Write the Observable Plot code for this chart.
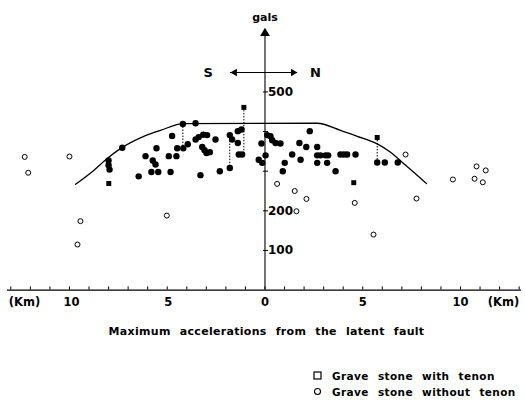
<!DOCTYPE html>
<html><head><meta charset="utf-8">
<script src="https://cdn.jsdelivr.net/npm/d3@7"></script>
<script src="https://cdn.jsdelivr.net/npm/@observablehq/plot@0.6"></script>
<style>
body{margin:0;background:#fff;font-family:"DejaVu Sans",sans-serif;color:#000;}
#wrap{position:relative;width:525px;height:400px;}
#chart{position:absolute;left:0;top:0;}
.cap{position:absolute;left:0;width:525px;top:325px;text-align:center;font-weight:bold;font-size:11px;word-spacing:5px;letter-spacing:0.3px;padding-left:4px;}
.leg{position:absolute;left:311px;font-weight:bold;font-size:10.5px;word-spacing:5px;letter-spacing:0.4px;display:flex;align-items:center;}
.sym{display:inline-block;width:12px;margin-right:9px;text-align:center;}
</style></head>
<body><div id="wrap"><div id="chart"></div>
<div class="cap">Maximum accelerations from the latent fault</div>
<div class="leg" style="top:370px"><span class="sym"><svg width="9" height="9"><rect x="1" y="1" width="7" height="7" fill="none" stroke="#000" stroke-width="1.2"/></svg></span>Grave stone with tenon</div>
<div class="leg" style="top:386px"><span class="sym"><svg width="9" height="9"><circle cx="4.5" cy="4.5" r="3" fill="none" stroke="#000" stroke-width="1.1"/></svg></span>Grave stone without tenon</div>
</div>
<script>
// distance from fault (km, S negative / N positive), acceleration (gals)
const filledX = [-7.30,-4.20,-4.49,-4.18,-3.95,-4.75,-5.55,-6.11,-4.92,-4.53,-5.74,-5.60,-5.81,-5.46,-4.83,-6.46,-8.0,-8.0,-7.95,
  -3.55,-3.55,-3.39,-3.16,-2.96,-3.21,-3.09,-2.99,-2.82,-2.53,-1.80,-1.68,-1.39,-1.39,-1.20,-1.34,-1.17,-1.80,-2.31,-3.30,
  -0.18,0.03,-0.32,-0.14,0.11,0.28,0.37,0.54,0.79,2.29,1.76,2.11,2.67,1.39,1.82,2.67,2.84,3.10,3.23,2.67,3.18,1.01,0.91,3.61,
  3.86,4.03,4.20,4.63,5.74,6.13,6.79];
const filledY = [359,419,358,358,368,389,358,338,338,338,327,317,298,298,298,287,327,315,304,
  421,380,386,392,391,361,353,346,348,380,391,380,371,401,405,342,342,308,300,290,
  370,340,329,321,391,388,378,371,370,401,371,361,361,342,329,340,340,340,340,321,321,321,300,300,
  342,342,342,342,322,322,322];
const squareX = [-7.99,-1.08,5.74,4.54];
const squareY = [269,461,385,271];
const openX = [-12.29,-12.11,-10.0,-9.44,-9.59,-5.02,0.62,1.52,2.12,1.61,4.59,5.55,7.19,7.75,9.61,10.82,11.29,10.72,11.14];
const openY = [336,296,337,174,115,188,268,250,230,199,220,140,342,231,279,312,302,281,272];
// dotted connectors
const linkX = [-4.20,-1.80,-1.08,5.74];
const linkY1 = [419,391,461,385];
const linkY2 = [358,308,342,322];
// envelope curve
const curveX = [-9.69,-8.76,-8.07,-7.30,-6.2,-5.35,-4.15,2.67,3.86,4.72,5.74,6.42,7.10,7.78,8.26];
const curveY = [267,302,332,360,388,403,420,421,403,388,369,348,319,290,269];
// axes
const xTicks = d3.range(-13,14);
const xLabelPos = [-12.3,-9.9,-4.95,0,5.0,10.0,12.2];
const xLabelText = ["(Km)","10","5","0","5","10","(Km)"];
const yTicks = [100,200,300,400,500];
const yLabels = [100,200,500];
const yAxisTop = 656;
const snY = 549, snX1 = -1.77, snX2 = 1.66;
const snLabels = [{x:-2.9,t:"S"},{x:2.58,t:"N"}];

const pts = (X,Y)=>X.map((x,i)=>({x,y:Y[i]}));
const filled = pts(filledX,filledY), squares = pts(squareX,squareY), open = pts(openX,openY);
const links = linkX.map((x,i)=>({x,y1:linkY1[i],y2:linkY2[i]}));
const curve = pts(curveX,curveY);
const font = "DejaVu Sans";

const chart = Plot.plot({
  width:525, height:312,
  marginLeft:7, marginRight:4, marginTop:28, marginBottom:22.4,
  x:{domain:[-13.17,13.12], axis:null},
  y:{domain:[0,660], axis:null},
  style:{fontFamily:font, background:"#fff"},
  marks:[
    Plot.ruleY([0], {stroke:"#000", strokeWidth:1.1}),
    Plot.ruleX(xTicks, {x:d=>d, y1:0, y2:8, stroke:"#000", strokeWidth:1}),
    Plot.text(xLabelPos, {x:d=>d, y:0, text:(d,i)=>xLabelText[i], dy:12, fontSize:11.5, fontWeight:"bold"}),
    Plot.ruleX([0], {y1:0, y2:yAxisTop-12, stroke:"#000", strokeWidth:1.1}),
    Plot.dot([yAxisTop], {x:0, y:d=>d-8, symbol:"triangle", r:3.6, fill:"#000"}),
    Plot.ruleY(yTicks, {y:d=>d, x1:-0.08, x2:0.18, stroke:"#000"}),
    Plot.text(yLabels, {x:0, y:d=>d, text:d=>String(d), textAnchor:"start", dx:3, fontSize:12, fontWeight:"bold"}),
    Plot.text(["gals"], {x:0, y:yAxisTop, text:d=>d, dy:-13, fontSize:11, fontWeight:"bold"}),
    Plot.ruleY([snY], {x1:snX1, x2:snX2, stroke:"#000", strokeWidth:1.1}),
    Plot.dot([snX1], {x:d=>d+0.22, y:snY, symbol:"triangle", rotate:-90, r:2.8, fill:"#000"}),
    Plot.dot([snX2], {x:d=>d-0.22, y:snY, symbol:"triangle", rotate:90, r:2.8, fill:"#000"}),
    Plot.text(snLabels, {x:"x", y:snY, text:"t", fontSize:13, fontWeight:"bold"}),
    Plot.line(curve, {x:"x", y:"y", curve:"monotone-x", stroke:"#000", strokeWidth:1.3}),
    Plot.ruleX(links, {x:"x", y1:"y1", y2:"y2", stroke:"#000", strokeWidth:1, strokeDasharray:"1.5,1.5"}),
    Plot.dot(filled, {x:"x", y:"y", r:3.2, fill:"#000"}),
    Plot.dot(squares, {x:"x", y:"y", symbol:"square", r:2.8, fill:"#000"}),
    Plot.dot(open, {x:"x", y:"y", r:2.5, fill:"#fff", stroke:"#000", strokeWidth:1})
  ]
});
document.getElementById("chart").appendChild(chart);
</script></body></html>
